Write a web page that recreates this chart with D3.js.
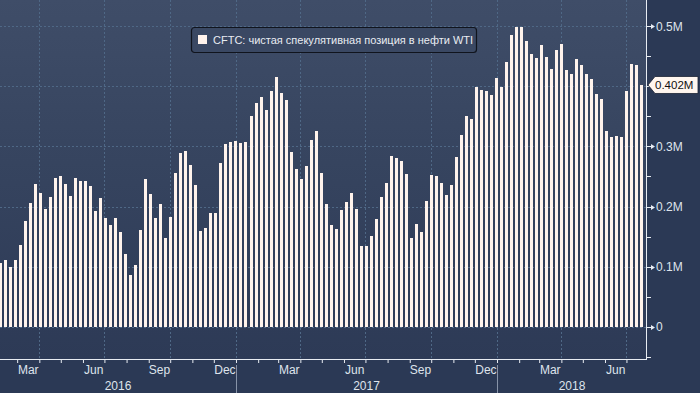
<!DOCTYPE html>
<html>
<head>
<meta charset="utf-8">
<script src="https://cdn.jsdelivr.net/npm/d3@7"></script>
<style>
  body { margin: 0; background: #2b3955; }
  svg text { font-family: "Liberation Sans Narrow", "Arial Narrow", "Liberation Sans", Arial, sans-serif; }
</style>
</head>
<body>
<svg id="chart" width="700" height="393"></svg>
<script>
// weekly CFTC net speculative position, WTI (millions of contracts)
var firstWeek = new Date(2016, 1, 7);
var lastWeek = new Date(2018, 6, 22);
var netLong = [
  0.107, 0.111, 0.099, 0.111, 0.136, 0.176, 0.206, 0.238, 0.223, 0.196,
  0.216, 0.248, 0.251, 0.238, 0.218, 0.248, 0.243, 0.243, 0.234, 0.193,
  0.214, 0.181, 0.170, 0.181, 0.158, 0.121, 0.086, 0.103, 0.161, 0.246,
  0.221, 0.181, 0.204, 0.148, 0.183, 0.256, 0.289, 0.292, 0.269, 0.236,
  0.160, 0.165, 0.189, 0.189, 0.272, 0.304, 0.307, 0.309, 0.306, 0.307,
  0.351, 0.372, 0.382, 0.361, 0.392, 0.415, 0.389, 0.377, 0.291, 0.263,
  0.246, 0.267, 0.311, 0.326, 0.256, 0.204, 0.169, 0.163, 0.194, 0.208,
  0.223, 0.196, 0.135, 0.135, 0.151, 0.179, 0.216, 0.239, 0.284, 0.281,
  0.276, 0.254, 0.148, 0.171, 0.158, 0.209, 0.253, 0.251, 0.239, 0.219,
  0.236, 0.282, 0.319, 0.351, 0.346, 0.399, 0.394, 0.392, 0.385, 0.414,
  0.399, 0.440, 0.485, 0.498, 0.498, 0.475, 0.454, 0.447, 0.468, 0.449,
  0.429, 0.460, 0.470, 0.427, 0.420, 0.445, 0.435, 0.420, 0.412, 0.387,
  0.379, 0.326, 0.316, 0.317, 0.316, 0.392, 0.437, 0.435, 0.402
];
var weeks = d3.timeSunday.range(firstWeek, d3.timeDay.offset(lastWeek, 1));

var yMajor = [0, 0.1, 0.2, 0.3, 0.5];
var yMajorLabels = ["0", "0.1M", "0.2M", "0.3M", "0.5M"];
var yMinor = [-0.05, 0.05, 0.15, 0.25, 0.35, 0.4, 0.45];
var gridValues = [0, 0.1, 0.2, 0.3, 0.4, 0.5];
var monthLabels = ["Mar", "Jun", "Sep", "Dec"];
var yearLabels = ["2016", "2017", "2018"];
var legendLabel = "CFTC: чистая спекулятивная позиция в нефти WTI";
var lastLabel = "0.402M";

var W = 700, H = 393;
var plotRight = 647, plotBottom = 359;

var svg = d3.select("#chart");

// x: time, y: value
var x = d3.scaleTime()
    .domain([new Date(2016, 1, 6), new Date(2018, 6, 29, 18)])
    .range([0, plotRight]);
var y = d3.scaleLinear()
    .domain([-0.0532, 0.5432])
    .range([plotBottom, 0]);

// background
var defs = svg.append("defs");
var grad = defs.append("linearGradient").attr("id", "bg").attr("x1", 0).attr("y1", 0).attr("x2", 0).attr("y2", 1);
grad.append("stop").attr("offset", "0%").attr("stop-color", "#3f4d68");
grad.append("stop").attr("offset", "45%").attr("stop-color", "#36445f");
grad.append("stop").attr("offset", "100%").attr("stop-color", "#2d3a56");

svg.append("rect").attr("width", W).attr("height", H).attr("fill", "#2b3955");
svg.append("rect").attr("width", plotRight).attr("height", plotBottom).attr("fill", "url(#bg)");

// grid
svg.append("g").selectAll("line")
    .data(gridValues)
    .join("line")
    .attr("x1", 0).attr("x2", plotRight)
    .attr("y1", d => Math.round(y(d)) + 0.5).attr("y2", d => Math.round(y(d)) + 0.5)
    .attr("stroke", "#4f6886").attr("stroke-dasharray", "2,2");

svg.append("g").selectAll("line")
    .data(d3.timeMonth.every(3).range(x.domain()[0], x.domain()[1]))
    .join("line")
    .attr("x1", d => Math.round(x(d)) + 0.5).attr("x2", d => Math.round(x(d)) + 0.5)
    .attr("y1", 0).attr("y2", plotBottom)
    .attr("stroke", "#4f6886").attr("stroke-dasharray", "2,2");

// bars
var barW = 3;
svg.append("g").selectAll("rect")
    .data(netLong)
    .join("rect")
    .attr("x", (d, i) => x(weeks[i]) - barW / 2)
    .attr("y", d => y(d))
    .attr("width", barW)
    .attr("height", d => y(0) - y(d))
    .attr("fill", "#fff3ec")
    .attr("shape-rendering", "crispEdges");

// x axis
var xAxis = svg.append("g")
    .attr("class", "x-axis axis")
    .attr("transform", "translate(0," + plotBottom + ")")
    .call(d3.axisBottom(x).ticks(d3.timeMonth.every(1)).tickSize(4).tickFormat("").tickSizeOuter(0));
xAxis.select(".domain").attr("stroke", "#e8ecf2").attr("d", "M0,0.5H" + plotRight);
xAxis.selectAll(".tick line").attr("stroke", "#e8ecf2");

var labelMonths = d3.timeMonth.range(x.domain()[0], x.domain()[1])
    .filter(d => monthLabels.indexOf(d3.timeFormat("%b")(d)) >= 0);
svg.append("g").selectAll("text")
    .data(labelMonths)
    .join("text")
    .attr("x", d => (x(d) + x(d3.timeMonth.offset(d, 1))) / 2)
    .attr("y", 374)
    .attr("text-anchor", "middle")
    .attr("fill", "#dfe4ec")
    .style("font-size", "12px")
    .text(d => d3.timeFormat("%b")(d));

svg.append("g").selectAll("text")
    .data(yearLabels)
    .join("text")
    .attr("x", d => {
      var a = Math.max(0, x(new Date(+d, 0, 1)));
      var b = Math.min(plotRight, x(new Date(+d + 1, 0, 1)));
      return (a + b) / 2;
    })
    .attr("y", 390)
    .attr("text-anchor", "middle")
    .attr("fill", "#dfe4ec")
    .style("font-size", "12px")
    .text(d => d);

svg.append("g").selectAll("line")
    .data(yearLabels.slice(1))
    .join("line")
    .attr("x1", d => Math.round(x(new Date(+d, 0, 1))) + 0.5)
    .attr("x2", d => Math.round(x(new Date(+d, 0, 1))) + 0.5)
    .attr("y1", 365).attr("y2", H)
    .attr("stroke", "#8793a8");

// y axis on the right
var yAxis = svg.append("g").attr("class", "y-axis axis");
yAxis.append("line")
    .attr("x1", plotRight - 0.5).attr("x2", plotRight - 0.5)
    .attr("y1", 0).attr("y2", plotBottom)
    .attr("stroke", "#e8ecf2");
yAxis.selectAll(".minor")
    .data(yMinor)
    .join("line")
    .attr("class", "minor")
    .attr("x1", plotRight).attr("x2", plotRight + 4)
    .attr("y1", d => Math.round(y(d)) + 0.5).attr("y2", d => Math.round(y(d)) + 0.5)
    .attr("stroke", "#e8ecf2");
yAxis.selectAll(".major")
    .data(yMajor)
    .join("path")
    .attr("class", "major")
    .attr("d", d => {
      var ty = Math.round(y(d)) + 0.5;
      return "M" + plotRight + "," + (ty - 0.5) + "H" + (plotRight + 4) + "L" + (plotRight + 4) + "," + (ty - 2.5) +
             "L" + (plotRight + 8) + "," + ty + "L" + (plotRight + 4) + "," + (ty + 2.5) + "L" + (plotRight + 4) + "," + (ty + 0.5) +
             "H" + plotRight + "Z";
    })
    .attr("fill", "#e8ecf2");
yAxis.selectAll("text")
    .data(yMajor)
    .join("text")
    .attr("x", plotRight + 9)
    .attr("y", d => y(d) + 4.5)
    .attr("fill", "#dfe4ec")
    .style("font-size", "12px")
    .text((d, i) => yMajorLabels[i]);

// last value marker
var lastY = y(netLong[netLong.length - 1]);
svg.append("path")
    .attr("d", "M" + (plotRight + 1) + "," + lastY + "L" + (plotRight + 8) + "," + (lastY - 8.5) +
          "H698V" + (lastY + 8.5) + "H" + (plotRight + 8) + "Z")
    .attr("fill", "#fff6ef")
    .attr("stroke", "#1b2233").attr("stroke-width", 0.8);
svg.append("text")
    .attr("x", plotRight + 8)
    .attr("y", lastY + 4.5)
    .attr("fill", "#111")
    .style("font-size", "11.5px")
    .text(lastLabel);

// legend
var legend = svg.append("g").attr("class", "legend").attr("transform", "translate(191,27)");
legend.append("rect")
    .attr("x", 0.5).attr("y", 0.5).attr("width", 285).attr("height", 25).attr("rx", 3)
    .attr("fill", "#3a4863").attr("stroke", "#10141d").attr("stroke-width", 1.2);
legend.append("rect")
    .attr("x", 7).attr("y", 8).attr("width", 9).attr("height", 9)
    .attr("fill", "#fff3ec");
legend.append("text")
    .attr("x", 22).attr("y", 17)
    .attr("fill", "#e9ecf2")
    .style("font-size", "11px")
    .text(legendLabel);
</script>
</body>
</html>
